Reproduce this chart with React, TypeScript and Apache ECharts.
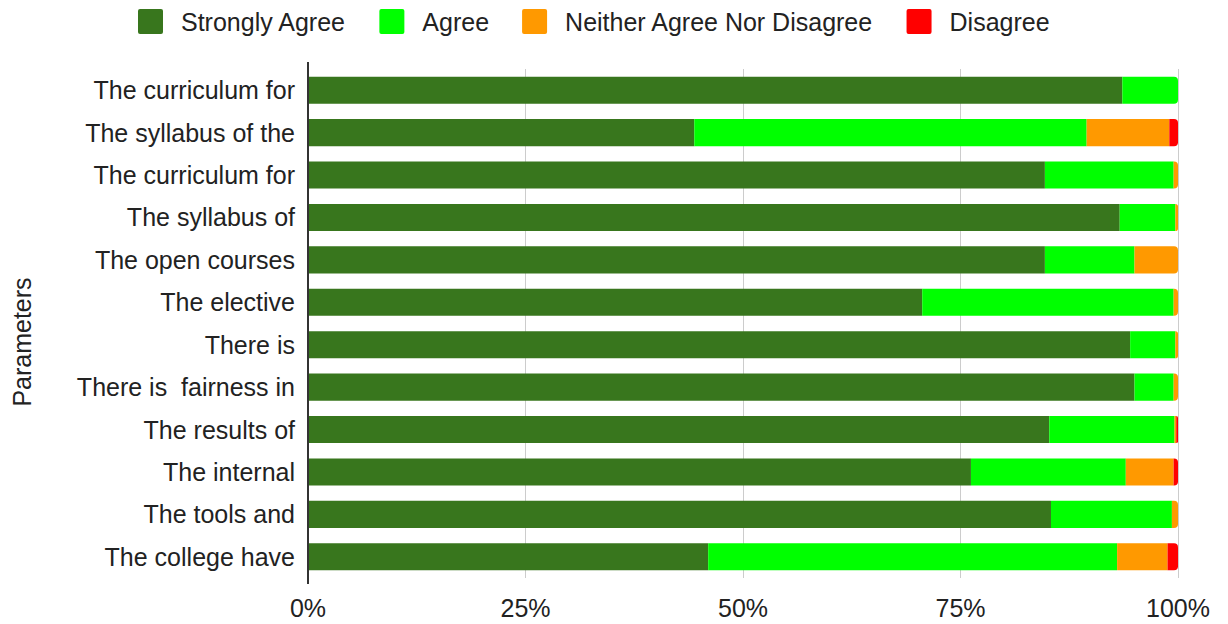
import React, { useEffect, useRef } from "react";
import * as echarts from "echarts";

const categories = [
  "The curriculum for",
  "The syllabus of the",
  "The curriculum for",
  "The syllabus of",
  "The open courses",
  "The elective",
  "There is",
  "There is  fairness in",
  "The results of",
  "The internal",
  "The tools and",
  "The college have",
];

const seriesNames = ["Strongly Agree", "Agree", "Neither Agree Nor Disagree", "Disagree"];
const colors = ["#38761d", "#00ff00", "#ff9900", "#ff0000"];

const stronglyAgree = [93.6, 44.4, 84.7, 93.3, 84.7, 70.6, 94.5, 95.0, 85.2, 76.2, 85.4, 46.0];
const agree = [6.4, 45.1, 14.8, 6.4, 10.3, 28.9, 5.2, 4.5, 14.4, 17.8, 13.9, 47.0];
const neither = [0, 9.5, 0.5, 0.3, 5.0, 0.5, 0.3, 0.5, 0.2, 5.5, 0.7, 5.8];
const disagree = [0, 1.0, 0, 0, 0, 0, 0, 0, 0.2, 0.5, 0, 1.2];

const xTicks = [0, 25, 50, 75, 100];

const FONT = "'Liberation Sans', Arial, sans-serif";
const FS = 25;
const ICON = "path://M2,0 H23 Q25,0 25,2 V23 Q25,25 23,25 H2 Q0,25 0,23 V2 Q0,0 2,0 Z";

export default function App() {
  const ref = useRef<HTMLDivElement>(null);

  useEffect(() => {
    document.body.style.margin = "0";
    if (!ref.current) return;
    const chart = echarts.init(ref.current, undefined, { renderer: "svg" });
    const all = [stronglyAgree, agree, neither, disagree];
    const lastIdx = categories.map((_, i) => {
      let last = 0;
      all.forEach((arr, s) => {
        if (arr[i] > 0) last = s;
      });
      return last;
    });

    const series = all.map((arr, s) => ({
      name: seriesNames[s],
      type: "bar",
      stack: "total",
      barWidth: "64%",
      itemStyle: { color: colors[s] },
      data: arr.map((v, i) => ({
        value: v,
        itemStyle: {
          color: colors[s],
          borderRadius: lastIdx[i] === s ? [0, 4, 4, 0] : 0,
        },
      })),
    }));

    chart.setOption({
      animation: false,
      textStyle: { fontFamily: FONT },
      legend: {
        top: 9,
        left: 138,
        padding: 0,
        itemWidth: 25,
        itemHeight: 25,
        itemGap: 33,
        icon: ICON,
        data: seriesNames,
        textStyle: {
          fontSize: FS,
          color: "#222",
          fontFamily: FONT,
          padding: [0, 0, 0, 13],
        },
      },
      grid: {
        left: 308,
        right: 50,
        top: 69,
        bottom: 46,
        containLabel: false,
        outerBoundsMode: "none",
      },
      graphic: [
        {
          type: "line",
          shape: { x1: 308, y1: 62, x2: 308, y2: 584 },
          style: { stroke: "#333333", lineWidth: 2 },
          z: 10,
        },
        {
          type: "text",
          x: 22,
          y: 342,
          rotation: Math.PI / 2,
          style: {
            text: "Parameters",
            fontSize: FS,
            fontFamily: FONT,
            fill: "#222",
            align: "center",
            verticalAlign: "middle",
          },
        },
      ],
      xAxis: {
        type: "value",
        min: xTicks[0],
        max: xTicks[xTicks.length - 1],
        interval: 25,
        axisLine: { show: false },
        axisTick: { show: false },
        splitLine: { show: true, lineStyle: { color: "#cccccc", width: 1 } },
        axisLabel: {
          formatter: "{value}%",
          fontSize: FS,
          color: "#222",
          fontFamily: FONT,
          margin: 17,
        },
      },
      yAxis: {
        type: "category",
        inverse: true,
        data: categories,
        axisLine: { show: false },
        axisTick: { show: false },
        axisLabel: { fontSize: FS, color: "#222", fontFamily: FONT, margin: 13 },
      },
      series,
    });
    return () => chart.dispose();
  }, []);

  return <div ref={ref} style={{ width: 1228, height: 624 }} />;
}
